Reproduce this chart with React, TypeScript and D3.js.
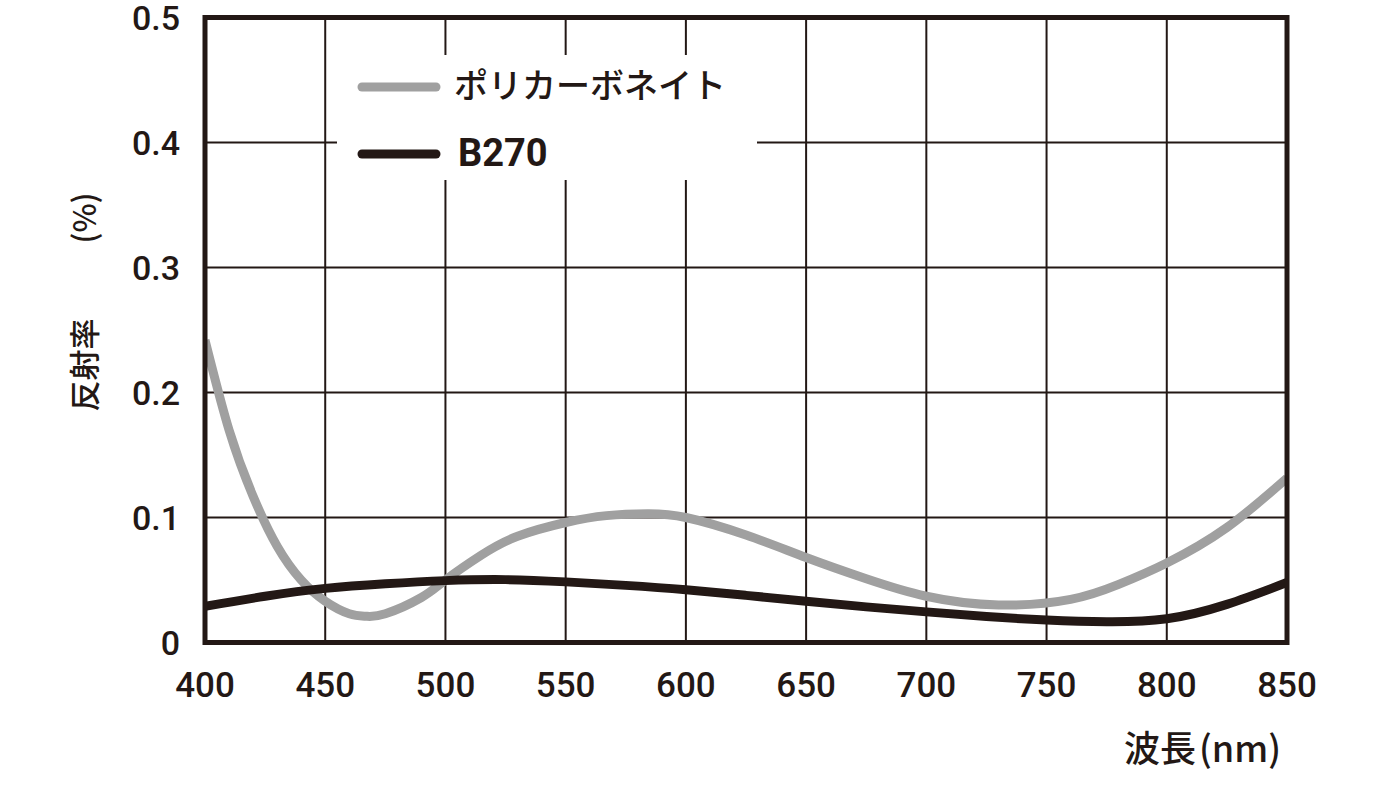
import React from "react";
import * as d3 from "d3";

const pcWavelengths = [400, 410, 420, 430, 440, 450, 460, 467, 475, 490, 500, 515, 530, 550, 567, 584, 600, 625, 650, 675, 700, 730, 760, 780, 800, 825, 850];
const polycarbonate = [0.242, 0.170, 0.117, 0.077, 0.050, 0.033, 0.023, 0.021, 0.023, 0.036, 0.050, 0.070, 0.085, 0.096, 0.1015, 0.103, 0.100, 0.086, 0.068, 0.051, 0.037, 0.030, 0.0345, 0.0465, 0.0636, 0.092, 0.1315];
const b270Wavelengths = [400, 425, 450, 475, 500, 525, 550, 575, 600, 625, 650, 675, 700, 725, 750, 775, 800, 825, 850];
const b270 = [0.029, 0.037, 0.0433, 0.047, 0.0495, 0.0503, 0.0485, 0.0457, 0.0422, 0.0377, 0.033, 0.0285, 0.0245, 0.0208, 0.018, 0.0166, 0.019, 0.0305, 0.048];
const xTicks = [400, 450, 500, 550, 600, 650, 700, 750, 800, 850];
const yTicks = [0, 0.1, 0.2, 0.3, 0.4, 0.5];
const yTickLabels = ["0", "0.1", "0.2", "0.3", "0.4", "0.5"];
const seriesNames = ["ポリカーボネイト", "B270"];

const INK = "#231815";
const GREY = "#a0a0a0";
const NUM_FONT = "Roboto, 'DejaVu Sans', sans-serif";
const JP_FONT = "'Noto Sans CJK JP', sans-serif";

export default function App() {
  const x = d3.scaleLinear().domain([400, 850]).range([205, 1287]);
  const y = d3.scaleLinear().domain([0, 0.5]).range([642.5, 17.5]);
  const line = d3
    .line<[number, number]>()
    .x(d => x(d[0]))
    .y(d => y(d[1]))
    .curve(d3.curveNatural);
  const pcPath = line(pcWavelengths.map((w, i) => [w, polycarbonate[i]] as [number, number])) || "";
  const bPath = line(b270Wavelengths.map((w, i) => [w, b270[i]] as [number, number])) || "";

  return (
    <svg width={1400} height={800} style={{ position: "absolute", left: 0, top: 0, background: "#fff" }}>
      <defs>
        <clipPath id="plot">
          <rect x={x(400)} y={y(0.5)} width={x(850) - x(400)} height={y(0) - y(0.5)} />
        </clipPath>
      </defs>
      {xTicks.map(t => (
        <line key={"gx" + t} x1={x(t)} x2={x(t)} y1={y(0.5)} y2={y(0)} stroke={INK} strokeWidth={2} />
      ))}
      {yTicks.map(t => (
        <line key={"gy" + t} x1={x(400)} x2={x(850)} y1={y(t)} y2={y(t)} stroke={INK} strokeWidth={2} />
      ))}
      <rect x={337} y={55} width={420} height={125} fill="#fff" />
      <g clipPath="url(#plot)">
        <path d={pcPath} fill="none" stroke={GREY} strokeWidth={9} />
        <path d={bPath} fill="none" stroke={INK} strokeWidth={9} />
      </g>
      <rect x={x(400)} y={y(0.5)} width={x(850) - x(400)} height={y(0) - y(0.5)} fill="none" stroke={INK} strokeWidth={5} />
      {xTicks.map(t => (
        <text key={"tx" + t} x={x(t)} y={697} textAnchor="middle" fontFamily={NUM_FONT} fontWeight={500} fontSize={35} fill={INK}>{t}</text>
      ))}
      {yTicks.map((t, i) => (
        <text key={"ty" + t} x={180} y={y(t) + 12.5} textAnchor="end" fontFamily={NUM_FONT} fontWeight={500} fontSize={34} fill={INK}>{yTickLabels[i]}</text>
      ))}
      <line x1={362} x2={436} y1={87} y2={87} stroke={GREY} strokeWidth={9} strokeLinecap="round" />
      <line x1={362} x2={436} y1={154} y2={154} stroke={INK} strokeWidth={9} strokeLinecap="round" />
      <text x={454} y={98} fontFamily={JP_FONT} fontWeight={500} fontSize={34} fill={INK}>{seriesNames[0]}</text>
      <text x={458} y={166} fontFamily={NUM_FONT} fontWeight={700} fontSize={38} fill={INK}>{seriesNames[1]}</text>
      <text transform="translate(96,365) rotate(-90)" textAnchor="middle" fontFamily={JP_FONT} fontWeight={500} fontSize={31} fill={INK}>反射率</text>
      <text transform="translate(96,218) rotate(-90)" textAnchor="middle" fontFamily={JP_FONT} fontWeight={500} fontSize={31} fill={INK}>(%)</text>
      <text x={1124} y={762} fontFamily={JP_FONT} fontWeight={500} fontSize={36} fill={INK}>
        波長<tspan dx={3}>(nm)</tspan>
      </text>
    </svg>
  );
}
